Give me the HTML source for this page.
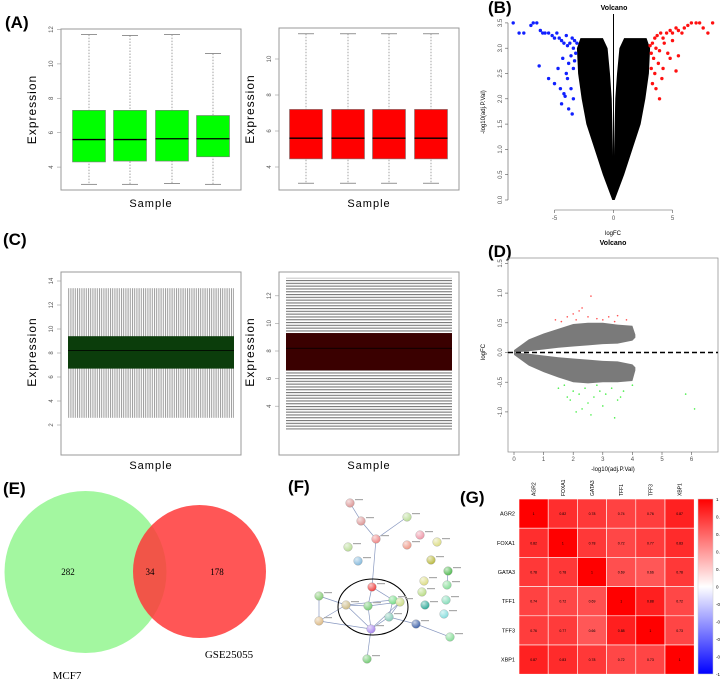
<!DOCTYPE html>
<html><head><meta charset="utf-8"><style>
body{margin:0;background:#fff}
svg{display:block;font-family:"Liberation Sans",sans-serif}
.lbl{font-weight:bold;font-size:17px}
.tick{font-size:6px;fill:#555}
</style></head><body>
<svg id="fig" width="720" height="680" viewBox="0 0 720 680">
<defs>
<radialGradient id="shine" cx="0.35" cy="0.3" r="0.7"><stop offset="0" stop-color="#fff" stop-opacity="0.7"/><stop offset="1" stop-color="#fff" stop-opacity="0"/></radialGradient>
<pattern id="vstripe" width="2.2" height="4" patternUnits="userSpaceOnUse"><rect width="2.2" height="4" fill="#fff"/><rect width="1" height="4" fill="#9a9a9a"/></pattern>
<pattern id="hstripe" width="4" height="2.8" patternUnits="userSpaceOnUse"><rect width="4" height="2.8" fill="#fff"/><rect width="4" height="1.1" fill="#777"/></pattern>
</defs>
<g id="root"></g>
</svg>
<script>
// ---- data ----
const boxA1Hi=[11.7,11.65,11.7,10.6], boxA1Q3=[7.3,7.3,7.3,7.0], boxA1Med=[5.6,5.6,5.65,5.65], boxA1Q1=[4.3,4.35,4.35,4.6], boxA1Lo=[3.0,3.0,3.05,3.0];
const boxA2Hi=[11.4,11.4,11.4,11.4], boxA2Q3=[7.2,7.2,7.2,7.2], boxA2Med=[5.6,5.6,5.6,5.6], boxA2Q1=[4.45,4.45,4.45,4.45], boxA2Lo=[3.1,3.1,3.1,3.1];
const ticksA1=[4,6,8,10,12], ticksA2=[4,6,8,10];
const boxC1Stats=[2.6,6.7,8.2,9.4,13.4], boxC2Stats=[2.3,6.6,8.2,9.3,13.3];
const ticksC1=[2,4,6,8,10,12,14], ticksC2=[4,6,8,10,12];
const volY=[0,0.5,1,1.5,2,2.5,3,3.2];
const volOuter=[0.1,0.9,1.6,2.3,2.7,3.0,3.1,2.8];
const volInner=[0,0.02,0.05,0.1,0.15,0.3,0.5,0.9];
const blueX=[-8.5,-8,-7.6,-7,-6.8,-6.5,-6.2,-6,-5.8,-5.5,-5.2,-5,-4.8,-4.6,-4.4,-4.2,-4,-3.9,-3.7,-3.5,-3.4,-3.3,-3.2,-3.1,-5.5,-4.7,-4.3,-4,-3.8,-3.6,-3.4,-3.3,-6.3,-5,-4.5,-4.2,-3.9,-3.6,-3.4,-4.4,-3.8,-3.5,-4.1];
const blueY=[3.5,3.3,3.3,3.45,3.5,3.5,3.35,3.3,3.3,3.3,3.25,3.2,3.3,3.2,3.15,3.1,3.25,3.05,3.1,3.2,3.0,3.15,2.9,3.1,2.4,2.6,2.8,2.5,2.7,2.85,2.6,2.75,2.65,2.3,2.2,2.1,2.4,2.2,2.0,1.9,1.8,1.7,2.05];
const redX=[3.1,3.3,3.5,3.7,4,4.2,4.5,4.8,5,5.3,5.5,5.8,6,6.3,6.6,7,7.3,7.6,8,8.4,3.2,3.4,3.6,3.9,4.3,4.6,5,5.5,3.2,3.5,3.8,4.2,3.3,3.6,4.1,3.9,5.3,4.8];
const redY=[3.05,3.1,3.2,3.25,3.3,3.2,3.3,3.35,3.3,3.4,3.35,3.3,3.4,3.45,3.5,3.5,3.5,3.4,3.3,3.5,2.9,2.8,3.0,2.95,3.1,2.9,3.15,2.85,2.6,2.5,2.7,2.6,2.3,2.2,2.4,2.0,2.55,2.8];
const maX=[0,0.5,1,1.5,2,2.5,3,3.5,4,4.1];
const maUpTop=[0.04,0.22,0.32,0.4,0.48,0.5,0.5,0.47,0.45,0.3];
const maUpBot=[0,0.02,0.05,0.08,0.1,0.12,0.14,0.15,0.2,0.25];
const maDnTop=[0,-0.02,-0.05,-0.08,-0.1,-0.12,-0.14,-0.15,-0.2,-0.25];
const maDnBot=[-0.04,-0.22,-0.33,-0.42,-0.5,-0.52,-0.5,-0.5,-0.48,-0.3];
const maRedX=[1.4,1.6,1.8,2.0,2.1,2.3,2.5,2.6,2.8,3.0,3.2,3.4,3.5,3.8,2.2];
const maRedY=[0.55,0.52,0.6,0.65,0.55,0.75,0.6,0.95,0.57,0.55,0.6,0.52,0.62,0.55,0.7];
const maGrnX=[1.5,1.7,1.9,2.0,2.2,2.4,2.5,2.7,2.9,3.1,3.3,3.5,3.7,4.0,2.3,2.6,3.0,3.4,1.8,2.1,5.8,6.1,2.8,3.6];
const maGrnY=[-0.6,-0.55,-0.8,-0.65,-0.7,-0.6,-0.85,-0.75,-0.65,-0.7,-0.6,-0.8,-0.65,-0.55,-0.95,-1.05,-0.9,-1.1,-0.75,-1.0,-0.7,-0.95,-0.55,-0.75];
const genes=["AGR2","FOXA1","GATA3","TFF1","TFF3","XBP1"];
const corr=[[1,0.82,0.78,0.74,0.76,0.87],[0.82,1,0.78,0.72,0.77,0.83],[0.78,0.78,1,0.69,0.66,0.78],[0.74,0.72,0.69,1,0.88,0.72],[0.76,0.77,0.66,0.88,1,0.73],[0.87,0.83,0.78,0.72,0.73,1]];
const cbTicks=[1,0.8,0.6,0.4,0.2,0,-0.2,-0.4,-0.6,-0.8,-1];
const vennCounts=[282,34,178];
const netX=[350,361,376,407,348,358,420,407,437,431,448,424,447,422,446,425,444,372,368,393,319,346,400,389,319,371,416,450,367];
const netY=[503,521,539,517,547,561,535,545,542,560,571,581,585,592,600,605,614,587,606,600,596,605,602,617,621,629,624,637,659];
const netCol=["#d99","#d99","#e88","#bd9","#bd9","#8bd","#e9a","#e98","#dd8","#bb4","#5b5","#dd8","#8d9","#bd8","#8db","#3a9","#8dd","#e44","#7c7","#7d8","#8c7","#cb8","#cd8","#8cb","#db8","#a8e","#46a","#8d9","#7c7"];
const netEdges=[[0,1],[1,2],[2,3],[2,17],[17,18],[17,19],[18,21],[18,22],[18,25],[21,25],[22,25],[22,23],[23,25],[19,23],[20,21],[20,24],[24,21],[24,25],[25,28],[23,26],[26,27],[10,12],[22,19],[21,19]];
// ---- helpers ----
const NS="http://www.w3.org/2000/svg", root=document.getElementById('root');
function mk(t,a,p){const e=document.createElementNS(NS,t);for(const k in a)e.setAttribute(k,a[k]);(p||root).appendChild(e);return e;}
function txt(s,a,p){const e=mk('text',a,p);e.textContent=s;return e;}
[["(A)",5,28],["(B)",488,13],["(C)",3,245],["(D)",488,257],["(E)",3,494],["(F)",288,492],["(G)",460,503]].forEach(l=>{
 const e=txt(l[0],{x:l[1],y:l[2],class:'lbl'});
 
 
});
function boxPanel(name,fx,fy,fw,fh,yfn,ticks,hi,q3,med,q1,lo,cx,col){
 const g=mk('g',{});
 
 
 mk('rect',{x:fx,y:fy,width:fw,height:fh,fill:'none',stroke:'#999'},g);
 ticks.forEach(t=>{const y=yfn(t);mk('line',{x1:fx-4,x2:fx,y1:y,y2:y,stroke:'#999','stroke-width':0.6},g);
  txt(t,{x:fx-8,y:y,class:'tick','text-anchor':'middle',transform:`rotate(-90 ${fx-8} ${y})`},g);});
 for(let i=0;i<hi.length;i++){
  const x=cx[i],w=33;
  mk('line',{x1:x,x2:x,y1:yfn(hi[i]),y2:yfn(lo[i]),stroke:'#666','stroke-dasharray':'1.5,1.5','stroke-width':0.6},g);
  [hi[i],lo[i]].forEach(v=>mk('line',{x1:x-8,x2:x+8,y1:yfn(v),y2:yfn(v),stroke:'#666','stroke-width':0.7},g));
  const b=mk('rect',{x:x-w/2,y:yfn(q3[i]),width:w,height:yfn(q1[i])-yfn(q3[i]),fill:col,stroke:'#777','stroke-width':0.6},g);
  
  
  mk('line',{x1:x-w/2,x2:x+w/2,y1:yfn(med[i]),y2:yfn(med[i]),stroke:'#000','stroke-width':1.3},g);
 }
 txt('Expression',{x:fx-25,y:fy+fh/2,'font-size':12,'text-anchor':'middle','letter-spacing':1,transform:`rotate(-90 ${fx-25} ${fy+fh/2})`},g);
 txt('Sample',{x:fx+fw/2,y:fy+fh+17,'font-size':11,'text-anchor':'middle','letter-spacing':1},g);
}
boxPanel('boxplot-a-left',61,29,180,161,v=>29.5+(12-v)*17.2,ticksA1,boxA1Hi,boxA1Q3,boxA1Med,boxA1Q1,boxA1Lo,[89,130,172,213],'#00ff00');
boxPanel('boxplot-a-right',279,28,180,162,v=>131-(v-6)*18,ticksA2,boxA2Hi,boxA2Q3,boxA2Med,boxA2Q1,boxA2Lo,[306,348,389,431],'#ff0000');
function manyBox(name,fx,fy,fw,fh,yfn,ticks,st,col,pat){
 const g=mk('g',{});
 
 
 mk('rect',{x:fx,y:fy,width:fw,height:fh,fill:'none',stroke:'#999'},g);
 ticks.forEach(t=>{const y=yfn(t);mk('line',{x1:fx-4,x2:fx,y1:y,y2:y,stroke:'#999','stroke-width':0.6},g);
  txt(t,{x:fx-8,y:y,class:'tick','text-anchor':'middle',transform:`rotate(-90 ${fx-8} ${y})`},g);});
 mk('rect',{x:fx+7,y:yfn(st[4]),width:fw-14,height:yfn(st[0])-yfn(st[4]),fill:`url(#${pat})`},g);
 const b=mk('rect',{x:fx+7,y:yfn(st[3]),width:fw-14,height:yfn(st[1])-yfn(st[3]),fill:col},g);
 
 
 mk('line',{x1:fx+7,x2:fx+fw-7,y1:yfn(st[2]),y2:yfn(st[2]),stroke:'#000','stroke-width':0.8},g);
 txt('Expression',{x:fx-25,y:fy+80,'font-size':12,'text-anchor':'middle','letter-spacing':1,transform:`rotate(-90 ${fx-25} ${fy+80})`},g);
 txt('Sample',{x:fx+fw/2,y:fy+fh+14,'font-size':11,'text-anchor':'middle','letter-spacing':1},g);
}
manyBox('boxplot-c-left',61,272,180,183,v=>281+(14-v)*12,ticksC1,boxC1Stats,'#0b3d0b','vstripe');
manyBox('boxplot-c-right',279,272,180,183,v=>351-(v-8)*13.8,ticksC2,boxC2Stats,'#3a0000','hstripe');
(function(){
 const g=mk('g',{});
 
 
 const X=v=>613.5+v*11.8, Y=v=>200-v*50.6;
 txt('Volcano',{x:614,y:10,'font-size':7,'font-weight':'bold','text-anchor':'middle'},g);
 mk('line',{x1:508,x2:508,y1:Y(0),y2:Y(3.5),stroke:'#555','stroke-width':0.6},g);
 [0,0.5,1,1.5,2,2.5,3,3.5].forEach(t=>{mk('line',{x1:505,x2:508,y1:Y(t),y2:Y(t),stroke:'#555','stroke-width':0.6},g);
  txt(t.toFixed(1),{x:502,y:Y(t),class:'tick','text-anchor':'middle',transform:`rotate(-90 502 ${Y(t)})`},g);});
 mk('line',{x1:X(-5),x2:X(5),y1:210,y2:210,stroke:'#555','stroke-width':0.6},g);
 [-5,0,5].forEach(t=>{mk('line',{x1:X(t),x2:X(t),y1:210,y2:213,stroke:'#555','stroke-width':0.6},g);txt(t,{x:X(t),y:220,class:'tick','text-anchor':'middle'},g);});
 txt('-log10(adj.P.Val)',{x:485,y:112,'font-size':6,'text-anchor':'middle',transform:'rotate(-90 485 112)'},g);
 txt('logFC',{x:613,y:235,'font-size':6,'text-anchor':'middle'},g);
 [-1,1].forEach(s=>{
  let pts=volY.map((y,i)=>X(s*volOuter[i])+','+Y(y));
  pts=pts.concat(volY.map((y,i)=>X(s*volInner[i])+','+Y(y)).reverse());
  const p=mk('polygon',{points:pts.join(' '),fill:'#000'},g);
  
  
 });
 mk('line',{x1:X(0),x2:X(0),y1:14,y2:Y(0),stroke:'#000','stroke-width':1},g);
 blueX.forEach((x,i)=>{const c=mk('circle',{cx:X(x),cy:Y(blueY[i]),r:1.7,fill:'#1020ff'},g);
  
  });
 redX.forEach((x,i)=>{const c=mk('circle',{cx:X(x),cy:Y(redY[i]),r:1.7,fill:'#ff1010'},g);
  
  });
})();
(function(){
 const g=mk('g',{});
 
 
 const X=v=>514+v*29.6, Y=v=>352.5-v*59.4;
 txt('Volcano',{x:613,y:245,'font-size':7,'font-weight':'bold','text-anchor':'middle'},g);
 mk('rect',{x:508,y:258,width:210,height:194,fill:'none',stroke:'#888','stroke-width':0.7},g);
 [-1,-0.5,0,0.5,1,1.5].forEach(t=>{mk('line',{x1:505,x2:508,y1:Y(t),y2:Y(t),stroke:'#555','stroke-width':0.6},g);
  txt(t.toFixed(1),{x:502,y:Y(t),class:'tick','text-anchor':'middle',transform:`rotate(-90 502 ${Y(t)})`},g);});
 [0,1,2,3,4,5,6].forEach(t=>{mk('line',{x1:X(t),x2:X(t),y1:452,y2:455,stroke:'#555','stroke-width':0.6},g);txt(t,{x:X(t),y:461,class:'tick','text-anchor':'middle'},g);});
 txt('logFC',{x:485,y:352,'font-size':6,'text-anchor':'middle',transform:'rotate(-90 485 352)'},g);
 txt('-log10(adj.P.Val)',{x:613,y:471,'font-size':6,'text-anchor':'middle'},g);
 [[maUpTop,maUpBot],[maDnTop,maDnBot]].forEach((pr,k)=>{
  let pts=maX.map((x,i)=>X(x)+','+Y(pr[0][i]));
  pts=pts.concat(maX.map((x,i)=>X(x)+','+Y(pr[1][i])).reverse());
  const p=mk('polygon',{points:pts.join(' '),fill:'#222','fill-opacity':0.6},g);
  
  
 });
 mk('line',{x1:508,x2:718,y1:Y(0),y2:Y(0),stroke:'#000','stroke-width':1.5,'stroke-dasharray':'5,3'},g);
 maRedX.forEach((x,i)=>mk('circle',{cx:X(x),cy:Y(maRedY[i]),r:0.8,fill:'#f55'},g));
 maGrnX.forEach((x,i)=>mk('circle',{cx:X(x),cy:Y(maGrnY[i]),r:0.8,fill:'#4e4'},g));
})();
(function(){
 const g=mk('g',{'font-family':'"Liberation Serif",serif'});
 
 
 const a=mk('circle',{cx:85.5,cy:572,r:81,fill:'#a3f7a0'},g);
 
 
 const b=mk('circle',{cx:199.5,cy:571.5,r:66.5,fill:'#ff3838','fill-opacity':0.85},g);
 
 
 [[68,vennCounts[0]],[150,vennCounts[1]],[217,vennCounts[2]]].forEach(c=>txt(c[1],{x:c[0],y:575,'font-size':9,'text-anchor':'middle'},g));
 txt('MCF7',{x:67,y:679,'font-size':11,'text-anchor':'middle'},g);
 txt('GSE25055',{x:229,y:658,'font-size':11,'text-anchor':'middle'},g);
})();
(function(){
 const g=mk('g',{});
 
 
 netEdges.forEach(e=>mk('line',{x1:netX[e[0]],y1:netY[e[0]],x2:netX[e[1]],y2:netY[e[1]],stroke:'#8898c0','stroke-width':0.7},g));
 mk('ellipse',{cx:373,cy:607,rx:35,ry:28,fill:'none',stroke:'#000','stroke-width':1},g);
 netX.forEach((x,i)=>{
  const n=mk('circle',{cx:x,cy:netY[i],r:4.3,fill:netCol[i],stroke:'#888','stroke-width':0.3},g);
  
  
  mk('circle',{cx:x,cy:netY[i],r:4.3,fill:'url(#shine)'},g);
  mk('rect',{x:x+5,y:netY[i]-4,width:8,height:1.2,fill:'#aaa'},g);
 });
})();
(function(){
 const g=mk('g',{});
 
 
 const x0=519,y0=499,cs=29.2;
 genes.forEach((gn,i)=>{
  txt(gn,{x:x0+cs*i+cs/2+2,y:y0-3,'font-size':5,transform:`rotate(-90 ${x0+cs*i+cs/2+2} ${y0-3})`},g);
  txt(gn,{x:x0-4,y:y0+cs*i+cs/2+2,'font-size':5.5,'text-anchor':'end'},g);
  genes.forEach((_,j)=>{
   const v=corr[i][j],c=Math.round(255*(1-v));
   const r=mk('rect',{x:x0+cs*j,y:y0+cs*i,width:cs,height:cs,fill:`rgb(255,${c},${c})`,stroke:'#fff','stroke-width':0.6},g);
   
   
   txt(v===1?'1':v.toFixed(2),{x:x0+cs*j+cs/2,y:y0+cs*i+cs/2+1.5,'font-size':3.5,'text-anchor':'middle'},g);
  });
 });
 const gr=mk('linearGradient',{id:'cb',x1:0,y1:0,x2:0,y2:1},document.querySelector('defs'));
 [['0','#ff0000'],['0.5','#ffffff'],['1','#0000ff']].forEach(s=>mk('stop',{offset:s[0],'stop-color':s[1]},gr));
 const cb=mk('rect',{x:698,y:499,width:15,height:175,fill:'url(#cb)',stroke:'#ccc','stroke-width':0.5},g);
 
 
 cbTicks.forEach(t=>txt(t,{x:716,y:499+(1-t)/2*175+2,'font-size':4.5},g));
})();
</script>
</body></html>
